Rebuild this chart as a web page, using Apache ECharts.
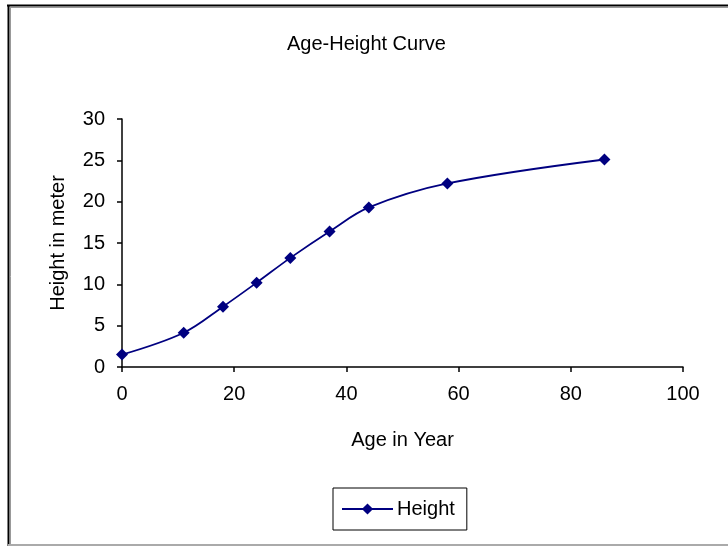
<!DOCTYPE html>
<html style="height: 100%">

<head>
  <meta charset="utf-8">
</head>

<body style="height: 100%; margin: 0; background: #fff">
  <div id="container" style="width: 728px; height: 546px"></div>
  <script type="text/javascript" src="https://cdn.jsdelivr.net/npm/echarts@6/dist/echarts.min.js"></script>
  <script type="text/javascript">
    // 年龄 (x) 与树高 (y)
    var ageYears = [0, 11, 18, 24, 30, 37, 44, 58, 86];
    var heightMeters = [1.5, 4.15, 7.3, 10.2, 13.2, 16.4, 19.3, 22.2, 25.1];
    var seriesName = 'Height';

    var points = ageYears.map(function (a, i) {
      return [a, heightMeters[i]];
    });

    var dom = document.getElementById("container");
    var myChart = echarts.init(dom);
    var font = 'Liberation Sans, Arial, sans-serif';

    var option = {
      backgroundColor: '#fff',
      animation: false,
      title: {
        text: 'Age-Height Curve',
        left: 287,
        top: 34,
        padding: 0,
        textStyle: {
          fontFamily: font,
          fontSize: 20,
          fontWeight: 'normal',
          color: '#000'
        }
      },
      grid: {
        left: 122,
        right: 45,
        top: 119,
        bottom: 179
      },
      xAxis: {
        type: 'value',
        min: 0,
        max: 100,
        interval: 20,
        name: 'Age in Year',
        nameLocation: 'middle',
        nameGap: 63,
        nameTextStyle: { fontFamily: font, fontSize: 20, color: '#000' },
        axisLine: { lineStyle: { color: '#000', width: 1.5 } },
        axisTick: { show: true, length: 5, lineStyle: { color: '#000', width: 1.5 } },
        axisLabel: { fontFamily: font, fontSize: 20, color: '#000', margin: 17 },
        splitLine: { show: false }
      },
      yAxis: {
        type: 'value',
        min: 0,
        max: 30,
        interval: 5,
        name: 'Height in meter',
        nameLocation: 'middle',
        nameGap: 54,
        nameTextStyle: { fontFamily: font, fontSize: 20, color: '#000' },
        axisLine: { show: true, lineStyle: { color: '#000', width: 1.5 } },
        axisTick: { show: true, length: 5, lineStyle: { color: '#000', width: 1.5 } },
        axisLabel: { fontFamily: font, fontSize: 20, color: '#000', margin: 17 },
        splitLine: { show: false }
      },
      legend: {
        data: [seriesName],
        left: 333,
        top: 488,
        orient: 'horizontal',
        padding: [11, 12, 11, 8],
        borderColor: '#000',
        borderWidth: 1,
        itemWidth: 51,
        itemHeight: 14,
        itemGap: 5,
        textStyle: { fontFamily: font, fontSize: 20, color: '#000', padding: [0, 0, 0, -1] }
      },
      graphic: [
        { type: 'line', shape: { x1: 7, y1: 5.5, x2: 728, y2: 5.5 }, style: { stroke: '#000', lineWidth: 2 } },
        { type: 'line', shape: { x1: 8.5, y1: 5, x2: 8.5, y2: 546 }, style: { stroke: '#000', lineWidth: 2 } },
        { type: 'line', shape: { x1: 10, y1: 7.5, x2: 728, y2: 7.5 }, style: { stroke: '#999', lineWidth: 1 } },
        { type: 'line', shape: { x1: 10.5, y1: 7, x2: 10.5, y2: 546 }, style: { stroke: '#999', lineWidth: 1 } },
        { type: 'line', shape: { x1: 8, y1: 545, x2: 728, y2: 545 }, style: { stroke: '#aaa', lineWidth: 2 } }
      ],
      series: [{
        name: seriesName,
        type: 'line',
        data: points,
        smooth: 0.35,
        symbol: 'diamond',
        symbolSize: 12,
        itemStyle: { color: '#000080' },
        lineStyle: { color: '#000080', width: 1.8 }
      }]
    };
    if (option && typeof option === "object") {
      myChart.setOption(option, true);
    }
  </script>
</body>

</html>
